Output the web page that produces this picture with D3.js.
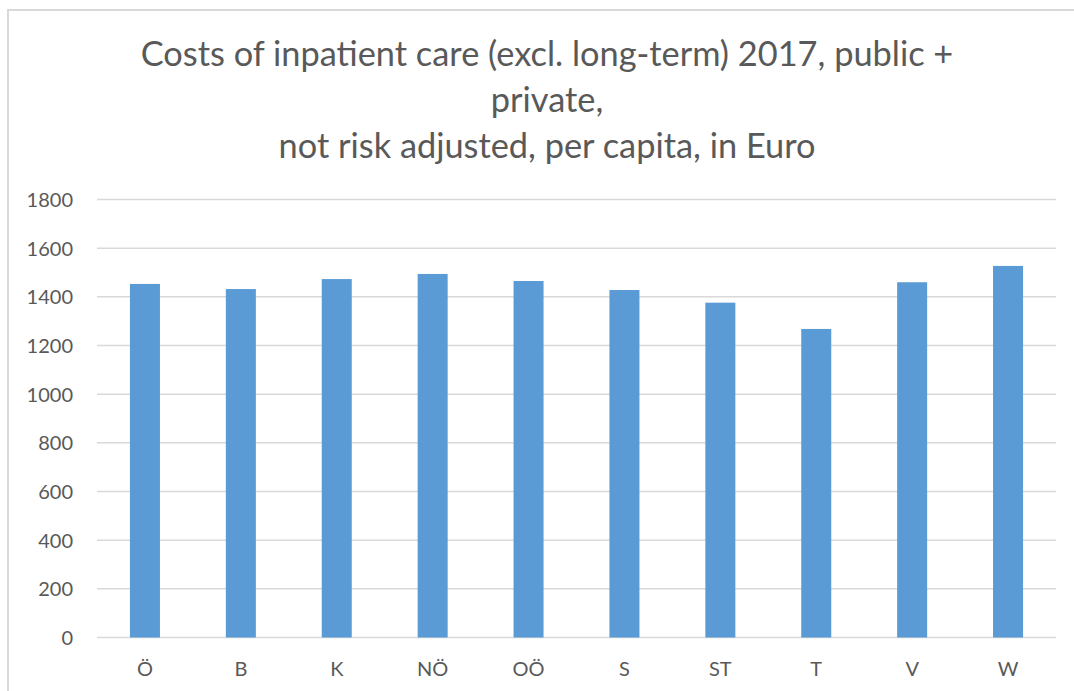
<!DOCTYPE html>
<html><head><meta charset="utf-8">
<script src="https://cdn.jsdelivr.net/npm/d3@7"></script>
<style>body{margin:0;background:#fff;}svg{display:block;}</style>
</head><body>
<svg id="c" width="1074" height="691"></svg>
<script>
const categories = ["Ö","B","K","NÖ","OÖ","S","ST","T","V","W"];
const values = [1453,1432,1473,1494,1465,1428,1376,1268,1460,1527];
const yTicks = [0,200,400,600,800,1000,1200,1400,1600,1800];
const titleLines = ["Costs of inpatient care (excl. long-term) 2017, public +","private,","not risk adjusted, per capita, in Euro"];

(function(){
const svg = d3.select("#c");
const font = "Lato, 'Open Sans', sans-serif";
const textColor = "#595959";

// chart border
svg.append("rect").attr("x",8).attr("y",10).attr("width",1080).attr("height",700)
  .attr("fill","none").attr("stroke","#d9d9d9").attr("stroke-width",2);

const pl = 97, pr = 1056, pt = 199.5, pb = 637.5;
const x = d3.scaleBand().domain(categories).range([pl,pr]).paddingInner(0.687).paddingOuter(0.3435);
const y = d3.scaleLinear().domain([0,1800]).range([pb,pt]);

// gridlines
svg.append("g").selectAll("line").data(yTicks).join("line")
  .attr("x1",pl).attr("x2",pr).attr("y1",d=>y(d)).attr("y2",d=>y(d))
  .attr("stroke","#d9d9d9").attr("stroke-width",1.5);

// y axis labels
const yAxis = d3.axisLeft(y).tickValues(yTicks).tickFormat(d3.format("d")).tickSize(0).tickPadding(0);
const yg = svg.append("g").attr("transform",`translate(73,0)`).call(yAxis);
yg.select(".domain").remove();
yg.selectAll("text").attr("font-family",font).attr("font-size",20).attr("fill",textColor).attr("dy","0.35em");

// bars
svg.append("g").selectAll("rect").data(values).join("rect")
  .attr("x",(d,i)=>x(categories[i])).attr("width",x.bandwidth())
  .attr("y",d=>y(d)).attr("height",d=>y(0)-y(d))
  .attr("fill","#5b9bd5");

// x axis labels
const xAxis = d3.axisBottom(x).tickSize(0).tickPadding(0);
const xg = svg.append("g").attr("transform",`translate(0,${pb})`).call(xAxis);
xg.select(".domain").remove();
xg.selectAll("text").attr("font-family",font).attr("font-size",20).attr("fill",textColor).attr("dy",null).attr("y",38);

// title
const cx = 547;
const tg = svg.append("g");
const baselines = [66,112,158];
const t0 = tg.append("text").attr("x",cx).attr("y",baselines[0]).attr("text-anchor","middle")
  .attr("font-family",font).attr("font-size",30).attr("fill",textColor).text(titleLines[0]);
const w = t0.node().getComputedTextLength();
const fs = 30 * 813 / w;
t0.attr("font-size",fs);
titleLines.slice(1).forEach((l,i)=>{
  tg.append("text").attr("x",cx).attr("y",baselines[i+1]).attr("text-anchor","middle")
    .attr("font-family",font).attr("font-size",fs).attr("fill",textColor).text(l);
});
})();
</script>
</body></html>
